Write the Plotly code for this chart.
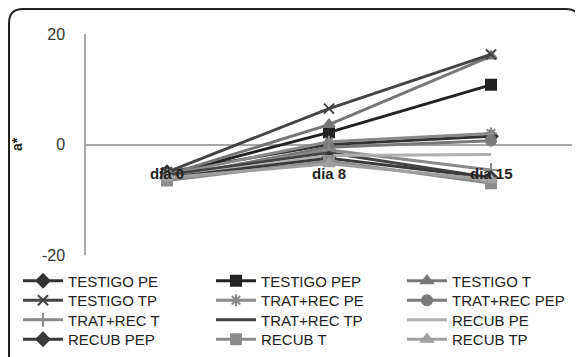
import plotly.graph_objects as go

categories = ["dia 0", "dia 8", "dia 15"]
series_names = ["TESTIGO PE", "TESTIGO PEP", "TESTIGO T", "TESTIGO TP",
                "TRAT+REC PE", "TRAT+REC PEP", "TRAT+REC T", "TRAT+REC TP",
                "RECUB PE", "RECUB PEP", "RECUB T", "RECUB TP"]
testigo_pe = [-5.0, 0.0, 1.5]
testigo_pep = [-5.5, 2.2, 10.8]
testigo_t = [-5.5, 3.6, 16.0]
testigo_tp = [-5.0, 6.5, 16.3]
tratrec_pe = [-5.5, 0.5, 2.0]
tratrec_pep = [-6.0, -0.5, 0.7]
tratrec_t = [-6.0, -1.0, -4.6]
tratrec_tp = [-5.5, -1.5, -6.0]
recub_pe = [-6.0, -2.0, -1.8]
recub_pep = [-6.0, -2.5, -6.0]
recub_t = [-6.5, -3.0, -7.0]
recub_tp = [-6.0, -3.5, -6.4]
yticks = [-20, 0, 20]
ytick_labels = ["-20", "0", "20"]

values = [testigo_pe, testigo_pep, testigo_t, testigo_tp, tratrec_pe, tratrec_pep,
          tratrec_t, tratrec_tp, recub_pe, recub_pep, recub_t, recub_tp]
colors = ["#333333", "#222222", "#777777", "#444444", "#8a8a8a", "#7a7a7a",
          "#8a8a8a", "#444444", "#b0b0b0", "#3a3a3a", "#8c8c8c", "#a0a0a0"]
symbols = ["diamond", "square", "triangle-up", "x-thin-open", "asterisk-open", "circle",
           "cross-thin-open", None, None, "diamond", "square", "triangle-up"]

# the page body adds an 8px margin: lay out in reference pixels, shifted by OFF
OFF = 8
W, H = 583 - OFF, 357 - OFF
L, R, T, B = 86 - OFF, 11, 34 - OFF, 102
pw, ph = W - L - R, H - T - B

def px(x):
    return (x - OFF - L) / pw

def py(y):
    return (H - B - (y - OFF)) / ph

# legend grid (reference pixels): column left edges, row centres
leg_cols = [18, 211, 402]
leg_rows = [281, 300.5, 320, 339.5]

fig = go.Figure()
legends = {}
leg_font = dict(size=15, color="#222222", family="Liberation Sans")
for i, (name, vals, col, sym) in enumerate(zip(series_names, values, colors, symbols)):
    lid = "legend" if i == 0 else "legend%d" % (i + 1)
    mode = "lines+markers" if sym else "lines"
    marker = dict(symbol=sym, size=10, color=col, line=dict(color=col, width=2)) if sym else None
    fig.add_trace(go.Scatter(x=categories, y=vals, name=name, mode=mode,
                             line=dict(color=col, width=3), marker=marker, legend=lid))
    legends[lid] = dict(x=px(leg_cols[i % 3]), y=py(leg_rows[i // 3]), xanchor="left",
                        yanchor="middle", orientation="v", itemwidth=40, font=leg_font,
                        bgcolor="rgba(0,0,0,0)")

for c in categories:
    fig.add_annotation(x=c, y=-5.3, xref="x", yref="y", text="<b>%s</b>" % c,
                       showarrow=False, font=dict(size=15, color="#222222",
                                                   family="Liberation Sans"))

# rounded outer frame
x0, x1, y0, y1 = px(9), px(580), py(9), py(370)
rx, ry = 14 / pw, 14 / ph
path = (f"M {x0+rx},{y0} L {x1-rx},{y0} Q {x1},{y0} {x1},{y0-ry} "
        f"L {x1},{y1} L {x0},{y1} L {x0},{y0-ry} Q {x0},{y0} {x0+rx},{y0} Z")
fig.add_shape(type="path", path=path, xref="paper", yref="paper",
              line=dict(color="#222222", width=2), layer="below")

fig.update_layout(
    width=W, height=H,
    margin=dict(l=L, r=R, t=T, b=B, autoexpand=False),
    paper_bgcolor="white", plot_bgcolor="white",
    font=dict(family="Liberation Sans", size=14, color="#333333"),
    showlegend=True,
    xaxis=dict(type="category", range=[-0.5, 2.5], showticklabels=False,
               showgrid=False, zeroline=False, showline=False, fixedrange=True),
    yaxis=dict(range=[-20, 20], tickvals=yticks, ticktext=ytick_labels, showgrid=True,
               gridcolor="#a8a8a8", gridwidth=1.5, zeroline=False, showline=True,
               linecolor="#a8a8a8", linewidth=1.5, ticks="", ticklabelstandoff=16,
               tickfont=dict(size=16, color="#333333"),
               title=dict(text="<b>a*</b>", standoff=16, font=dict(size=14, color="#222222"))),
    **legends,
)

fig.write_html("out.html")
